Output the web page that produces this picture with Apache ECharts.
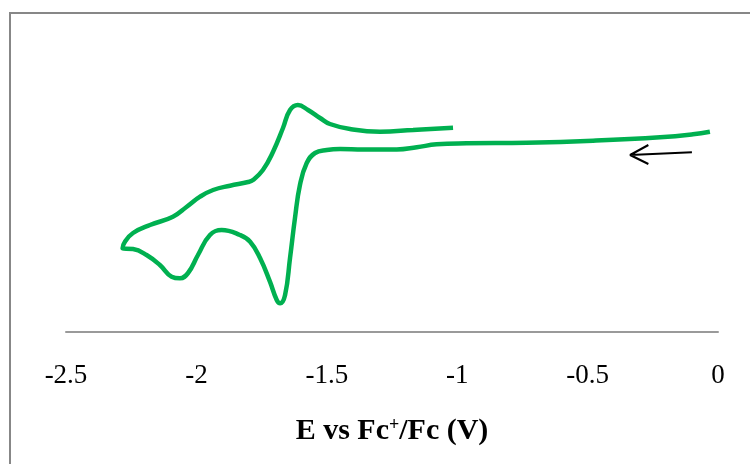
<!DOCTYPE html>
<html>
<head>
<meta charset="utf-8">
<script src="https://cdn.jsdelivr.net/npm/echarts@6/dist/echarts.min.js"></script>
<style>
  html, body { margin: 0; padding: 0; background: #fff; }
  #chart { width: 750px; height: 464px; }
</style>
</head>
<body>
<div id="chart"></div>
<script>
// potential (V vs Fc+/Fc) and current (arbitrary units)
// scan starts at ~0 V going negative, turns at -2.28 V, then comes back
const potential = [
  -0.031, -0.096, -0.222, -0.479, -0.733, -0.964, -1.079, -1.155, -1.232, -1.361,
  -1.449, -1.500, -1.545, -1.577, -1.603, -1.622, -1.641, -1.660, -1.679, -1.692,
  -1.718, -1.756, -1.794, -1.833, -1.903, -1.948, -1.994, -2.032, -2.063, -2.095,
  -2.140, -2.191, -2.243, -2.283,
  -2.274, -2.243, -2.178, -2.090, -2.037, -1.986, -1.936, -1.871, -1.802, -1.783,
  -1.745, -1.706, -1.668, -1.641, -1.611, -1.572, -1.526, -1.488, -1.411, -1.296,
  -1.169, -1.016
];
const current = [
  20.03, 19.77, 19.47, 19.13, 18.93, 18.87, 18.77, 18.47, 18.25, 18.25,
  18.30, 18.20, 17.90, 16.90, 14.70, 11.40, 7.40, 3.70, 2.87, 3.20,
  5.03, 7.40, 9.03, 9.70, 10.20, 9.70, 7.70, 5.90, 5.37, 5.53,
  6.70, 7.70, 8.30, 8.37,
  9.03, 9.90, 10.70, 11.53, 12.53, 13.53, 14.20, 14.63, 15.00, 15.20,
  16.20, 18.03, 20.40, 22.20, 22.70, 22.20, 21.40, 20.80, 20.30, 20.03,
  20.20, 20.43
];

// scan direction arrow: barb, tip, barb, tip, tail
const arrowX = [-0.267, -0.337, -0.267, -0.337, -0.100];
const arrowY = [18.70, 17.70, 16.80, 17.70, 17.97];

const xTicks = [-2.5, -2, -1.5, -1, -0.5, 0];
const xTitle = '{b|E vs Fc}{sup|+}{b|/Fc (V)}';

const chart = echarts.init(document.getElementById('chart'));

chart.setOption({
  animation: false,
  backgroundColor: '#fff',
  graphic: [{
    type: 'rect',
    shape: { x: 10, y: 13, width: 800, height: 500 },
    style: { fill: 'none', stroke: '#878787', lineWidth: 2 },
    silent: true
  }],
  grid: { left: 66, right: 32, top: 32, bottom: 132 },
  xAxis: {
    type: 'value',
    min: xTicks[0],
    max: xTicks[xTicks.length - 1],
    interval: xTicks[1] - xTicks[0],
    splitLine: { show: false },
    axisTick: { show: false },
    axisLine: { show: true, onZero: false, lineStyle: { color: '#9a9a9a', width: 2 } },
    axisLabel: {
      margin: 30,
      color: '#000',
      fontFamily: 'Liberation Serif',
      fontSize: 27
    },
    name: xTitle,
    nameLocation: 'middle',
    nameGap: 84,
    nameTextStyle: {
      rich: {
        b: { fontFamily: 'Liberation Serif', fontWeight: 'bold', fontSize: 30, color: '#000' },
        sup: { fontFamily: 'Liberation Serif', fontWeight: 'bold', fontSize: 18, color: '#000', verticalAlign: 'top', padding: [0, 0, 10, 0] }
      }
    }
  },
  yAxis: {
    type: 'value',
    min: 0,
    max: 30,
    show: false
  },
  series: [
    {
      type: 'line',
      data: potential.map((v, i) => [v, current[i]]),
      smooth: 0.45,
      showSymbol: false,
      lineStyle: { color: '#00B050', width: 4.5 },
      itemStyle: { color: '#00B050' }
    },
    {
      type: 'line',
      data: arrowX.map((v, i) => [v, arrowY[i]]),
      showSymbol: false,
      lineStyle: { color: '#000', width: 2 }
    }
  ]
});
</script>
</body>
</html>
